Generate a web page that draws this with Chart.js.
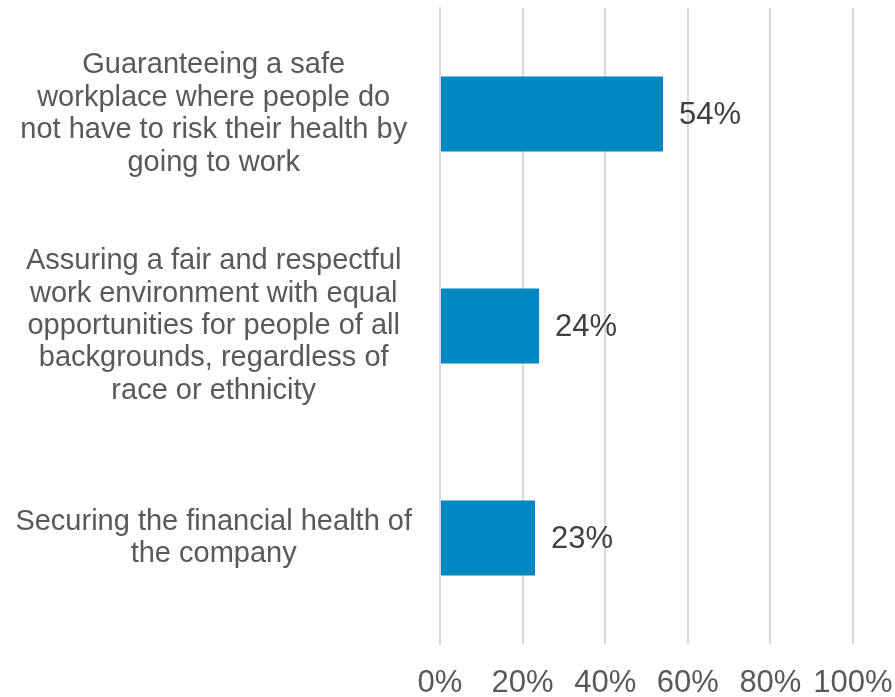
<!DOCTYPE html>
<html>
<head>
<meta charset="utf-8">
<script src="https://cdn.jsdelivr.net/npm/chart.js@4/dist/chart.umd.min.js"></script>
<style>
    html, body { margin: 0; padding: 0; background: #ffffff; }
    #wrap { width: 895px; height: 697px; }
</style>
</head>
<body>
<div id="wrap"><canvas id="myChart"></canvas></div>
<script>
// categories (one array per line of the label)
var categories = [
    ["Guaranteeing a safe", "workplace where people do", "not have to risk their health by", "going to work"],
    ["Assuring a fair and respectful", "work environment with equal", "opportunities for people of all", "backgrounds, regardless of", "race or ethnicity"],
    ["Securing the financial health of", "the company"]
];
var values = [54, 24, 23];
var xTicks = [0, 20, 40, 60, 80, 100];

var fontFamily = "'Liberation Sans', Arial, sans-serif";

// writes the % value at the end of each bar
var valueLabels = {
    id: 'valueLabels',
    afterDatasetsDraw: function(chart) {
        var ctx = chart.ctx;
        var meta = chart.getDatasetMeta(0);
        ctx.save();
        ctx.font = "31px " + fontFamily;
        ctx.fillStyle = "#404040";
        ctx.textAlign = "left";
        ctx.textBaseline = "middle";
        for (var i = 0; i < meta.data.length; i++) {
            var bar = meta.data[i];
            ctx.fillText(values[i] + "%", bar.x + 16, bar.y + 1);
        }
        ctx.restore();
    }
};

var data = {
    labels: categories,
    datasets: [{
        data: values,
        backgroundColor: '#0088C2',
        borderWidth: 0,
        barPercentage: 0.354,
        categoryPercentage: 1
    }]
};

var config = {
    type: 'bar',
    data: data,
    options: {
        indexAxis: 'y',
        responsive: true,
        maintainAspectRatio: false,
        animation: { duration: 0 },
        layout: { padding: { top: 8, right: 42, left: 0, bottom: 0 } },
        plugins: {
            legend: { display: false },
            tooltip: { enabled: false }
        },
        scales: {
            x: {
                min: 0,
                max: 100,
                afterBuildTicks: function(axis) {
                    axis.ticks = xTicks.map(function(v) { return { value: v }; });
                },
                afterFit: function(axis) {
                    // labels may hang over the plot edges
                    axis.paddingLeft = 0;
                    axis.paddingRight = 0;
                    axis.height = 53;
                },
                grid: {
                    color: '#d9d9d9',
                    lineWidth: 2,
                    drawTicks: false
                },
                border: { display: false },
                ticks: {
                    padding: 24,
                    color: '#595959',
                    font: { size: 31, family: fontFamily, lineHeight: 1 },
                    maxRotation: 0,
                    callback: function(v) { return v + "%"; }
                }
            },
            y: {
                afterFit: function(axis) {
                    axis.width = 440;
                    axis.paddingTop = 0;
                    axis.paddingBottom = 0;
                },
                grid: { display: false },
                border: { display: true, color: '#d9d9d9', width: 2 },
                ticks: {
                    crossAlign: 'center',
                    padding: 20,
                    color: '#595959',
                    font: { size: 29, family: fontFamily, lineHeight: 1.12 }
                }
            }
        }
    },
    plugins: [valueLabels]
};

var myChart = new Chart(document.getElementById('myChart'), config);
</script>
</body>
</html>
